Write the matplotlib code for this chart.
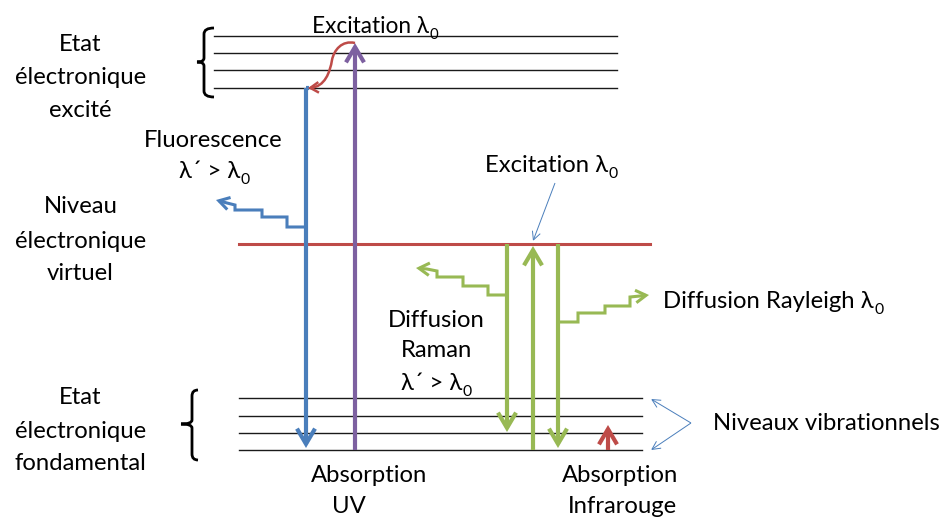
import matplotlib
matplotlib.use("Agg")
import matplotlib.pyplot as plt
from matplotlib.patches import FancyArrowPatch, ArrowStyle, PathPatch
from matplotlib.path import Path

# ---------------- data (pixel coordinates of the diagram) ----------------
W, H = 946, 517
top_levels_y = [36, 53, 70, 88]
top_levels_x = [214, 617]
bottom_levels_y = [398, 416, 433, 450]
bottom_levels_x = [239, 642]
virtual_y = 244
virtual_x = [239, 650]

# vertical transitions: (x, y_start, y_tip, colour key)
transitions = [
    (306, 88, 448, "blue"),     # fluorescence
    (355, 450, 43, "purple"),   # UV absorption
    (507, 244, 432, "green"),   # Raman (Stokes) emission
    (533, 450, 246, "green"),   # excitation to virtual level
    (558, 244, 448, "green"),   # Rayleigh emission
    (608, 450, 425, "red"),     # IR absorption
]

fluor_steps = [(306, 227), (287, 227), (287, 217), (262, 217), (262, 210),
               (235, 210), (235, 205), (227, 203), (216, 200)]
raman_steps = [(507, 295), (488, 295), (488, 286), (463, 286), (463, 277),
               (437, 277), (437, 271), (427, 269), (416, 268)]
rayleigh_steps = [(559, 322), (578, 322), (578, 313), (605, 313), (605, 306),
                  (630, 306), (630, 297), (640, 296), (649, 295)]
# cubic Bezier: start, c1, c2, mid, c1, c2, end
relax_curve = [(355, 43), (342, 40), (334, 50), (332, 60),
               (330, 72), (325, 87), (308, 88)]

excit_annot = [(555, 183), (533, 241)]
vib_annot_from = (691, 423)
vib_annot_to = [(651, 399), (651, 450)]

braces = [  # x_vert, x_tip, x_end, y_top, y_mid, y_bot
    (204, 197, 214, 28, 62, 97),
    (192, 181, 198, 390, 424, 460),
]

# text: (x, baseline_y, main, subscript, ha, size_factor)
texts = [
    (80.5, 51, "Etat", None, "center", 1.0),
    (80.5, 84, "électronique", None, "center", 1.0),
    (80.5, 117, "excité", None, "center", 1.0),
    (213.5, 147, "Fluorescence", None, "center", 1.0),
    (214, 178, "λ´ > λ", "0", "center", 1.0),
    (80.5, 213, "Niveau", None, "center", 1.0),
    (80.5, 248, "électronique", None, "center", 1.0),
    (80.5, 280, "virtuel", None, "center", 1.0),
    (375, 33, "Excitation λ", "0", "center", 0.95),
    (551, 172, "Excitation λ", "0", "center", 1.0),
    (663, 308, "Diffusion Rayleigh λ", "0", "left", 1.0),
    (436, 327, "Diffusion", None, "center", 1.0),
    (436.5, 357, "Raman", None, "center", 1.0),
    (436, 390, "λ´ > λ", "0", "center", 1.0),
    (80.5, 404, "Etat", None, "center", 1.0),
    (80.5, 438, "électronique", None, "center", 1.0),
    (80.5, 470, "fondamental", None, "center", 1.0),
    (713, 430, "Niveaux vibrationnels", None, "left", 1.0),
    (369, 482, "Absorption", None, "center", 1.0),
    (349, 513, "UV", None, "center", 1.0),
    (620, 482, "Absorption", None, "center", 1.0),
    (622, 513, "Infrarouge", None, "center", 1.0),
]

# ---------------- styles ----------------
COL = {"blue": "#4A7EBB", "purple": "#7D60A0", "green": "#98B954",
       "red": "#BE4B48", "black": "#1a1a1a"}
FAM = ["Lato", "DejaVu Sans"]
FS = 17.2

fig = plt.figure(figsize=(W / 100, H / 100), dpi=100)
ax = fig.add_axes([0, 0, 1, 1])
ax.set_xlim(0, W)
ax.set_ylim(H, 0)
ax.axis("off")

# energy levels
for y in top_levels_y:
    ax.plot(top_levels_x, [y, y], color=COL["black"], lw=1.0, zorder=1)
for y in bottom_levels_y:
    ax.plot(bottom_levels_x, [y, y], color=COL["black"], lw=1.0, zorder=1)
ax.plot(virtual_x, [virtual_y, virtual_y], color=COL["red"], lw=2.2, zorder=2)


def arrow_path(pts, color, lw, hl, hw, z=4, curve=False):
    if curve:
        codes = [Path.MOVETO] + [Path.CURVE4] * (len(pts) - 1)
    else:
        codes = [Path.MOVETO] + [Path.LINETO] * (len(pts) - 1)
    p = FancyArrowPatch(path=Path(pts, codes),
                        arrowstyle=ArrowStyle("->", head_length=hl, head_width=hw),
                        mutation_scale=1, color=color, lw=lw, zorder=z,
                        joinstyle="miter", capstyle="butt")
    ax.add_patch(p)


# vertical transitions
for x, y0, y1, c in transitions:
    z = 3 if c == "blue" else 4
    arrow_path([(x, y0), (x, y1)], COL[c], 3.0, 11, 6.5, z=z)

# small hook at top of fluorescence line
ax.plot([306, 309], [88, 88], color=COL["blue"], lw=3.0, solid_capstyle="butt", zorder=3)

# staircases
arrow_path(fluor_steps, COL["blue"], 2.2, 7.5, 4.5)
arrow_path(raman_steps, COL["green"], 2.2, 7.5, 4.5)
arrow_path(rayleigh_steps, COL["green"], 2.2, 7.5, 4.5)

# relaxation curve (red)
arrow_path(relax_curve, COL["red"], 1.8, 6, 3.8, z=5, curve=True)

# thin annotation arrows
arrow_path(excit_annot, COL["blue"], 0.7, 6, 3, z=6)
for tgt in vib_annot_to:
    arrow_path([vib_annot_from, tgt], COL["blue"], 0.7, 6, 3, z=6)

# braces
for xv, xt, xe, yt, ym, yb in braces:
    r, r2 = 6, 4
    verts = [(xe, yt), (xv, yt), (xv, yt + r), (xv, ym - r2), (xv, ym), (xt, ym),
             (xv, ym), (xv, ym + r2), (xv, yb - r), (xv, yb), (xe, yb)]
    codes = [Path.MOVETO, Path.CURVE3, Path.CURVE3, Path.LINETO, Path.CURVE3, Path.CURVE3,
             Path.CURVE3, Path.CURVE3, Path.LINETO, Path.CURVE3, Path.CURVE3]
    ax.add_patch(PathPatch(Path(verts, codes), fill=False, color="black", lw=2.0,
                           capstyle="butt"))

# text
renderer = fig.canvas.get_renderer()
for x, y, main, sub, ha, sf in texts:
    size = FS * sf
    t = ax.text(0, y, main, fontsize=size, family=FAM, ha="left", va="baseline",
                color="black", zorder=7)
    w1 = t.get_window_extent(renderer).width
    w2 = 0
    s = None
    if sub:
        s = ax.text(0, y + 6, sub, fontsize=size * 0.66, family=FAM, ha="left",
                    va="baseline", color="black", zorder=7)
        w2 = s.get_window_extent(renderer).width
    total = w1 + w2
    left = x - total / 2 if ha == "center" else x
    t.set_x(left)
    if s is not None:
        s.set_x(left + w1 + 0.5)

fig.savefig("out.png", dpi=100)
